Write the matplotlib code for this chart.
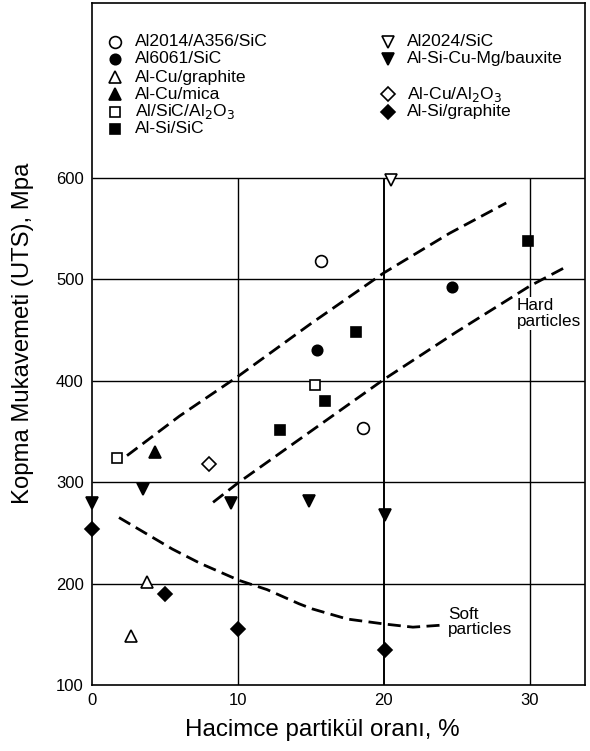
import matplotlib
matplotlib.use("Agg")
import matplotlib.pyplot as plt

plt.rcParams['font.family'] = ['Liberation Sans', 'DejaVu Sans']

# ---- data (volume fraction %, UTS MPa) ----
series_names = ["Al2014/A356/SiC", "Al6061/SiC", "Al-Cu/graphite", "Al-Cu/mica",
                "Al/SiC/Al$_2$O$_3$", "Al-Si/SiC", "Al2024/SiC", "Al-Si-Cu-Mg/bauxite",
                "Al-Cu/Al$_2$O$_3$", "Al-Si/graphite"]
al2014_x = [15.7, 18.6]
al2014_y = [518, 353]
al6061_x = [15.4, 24.7]
al6061_y = [430, 492]
alcu_graphite_x = [3.8, 2.7]
alcu_graphite_y = [201, 148]
alcu_mica_x = [4.3]
alcu_mica_y = [330]
al_sic_al2o3_x = [1.7, 15.3]
al_sic_al2o3_y = [324, 396]
alsi_sic_x = [12.9, 16.0, 18.1, 29.9]
alsi_sic_y = [351, 380, 448, 537]
al2024_x = [20.5]
al2024_y = [598]
bauxite_x = [0.0, 3.5, 9.5, 14.9, 20.1]
bauxite_y = [279, 293, 279, 281, 268]
alcu_al2o3_x = [8.0]
alcu_al2o3_y = [318]
alsi_graphite_x = [0.0, 5.0, 10.0, 20.1]
alsi_graphite_y = [254, 190, 155, 134]

# trend bands
hard_upper_x = [2.4, 6, 10, 15, 20, 24.5, 28.4]
hard_upper_y = [326, 365, 404, 456, 506, 545, 575]
hard_lower_x = [8.3, 10, 15, 20, 25, 30, 32.5]
hard_lower_y = [280, 299, 350, 401, 448, 493, 512]
soft_x = [1.85, 3.5, 5.5, 7.4, 10.1, 12, 14.2, 15.1, 17.5, 20.1, 22, 24]
soft_y = [265, 251, 234, 220, 203, 194, 180, 175, 165, 160, 157, 159]

x_ticks = [0, 10, 20, 30]
y_ticks = [100, 200, 300, 400, 500, 600]

# ---- figure ----
fig = plt.figure(figsize=(5.9, 7.51), dpi=100)
L, R = 92 / 590, 585 / 590
B, T = 1 - 685 / 751, 1 - 3 / 751
ax = fig.add_axes([L, B, R - L, T - B])
ax.set_xlim(0, 33.8)
ax.set_ylim(100, 772)

for s in ax.spines.values():
    s.set_linewidth(1.2)
    s.set_color('black')

# grid (only within the data region)
ax.vlines([10, 30], 100, 600, color='black', lw=1.0, zorder=1)
ax.vlines([20], 100, 600, color='black', lw=1.4, zorder=1)
ax.hlines([200, 300, 400, 500, 600], 0, 33.8, color='black', lw=1.0, zorder=1)

ax.set_xticks(x_ticks)
ax.set_yticks(y_ticks)
ax.tick_params(length=0, labelsize=12, pad=6)

ax.set_xlabel("Hacimce partikül oranı, %", fontsize=17.4)
ax.xaxis.set_label_coords(0.467, -0.050)
ax.xaxis.label.set_va('top')
ax.set_ylabel("Kopma Mukavemeti (UTS), Mpa", fontsize=17.2)
ax.yaxis.set_label_coords(-0.118, 0.516)

# dashed trend lines
dash = (0, (4.7, 2.3))
for xs, ys in [(hard_upper_x, hard_upper_y), (hard_lower_x, hard_lower_y), (soft_x, soft_y)]:
    ax.plot(xs, ys, color='black', lw=2.0, linestyle=dash, zorder=2)

mew = 1.2
styles = [
    (al2014_x, al2014_y, 'o', 'white', 8.5),
    (al6061_x, al6061_y, 'o', 'black', 7.5),
    (alcu_graphite_x, alcu_graphite_y, '^', 'white', 8.5),
    (alcu_mica_x, alcu_mica_y, '^', 'black', 8.5),
    (al_sic_al2o3_x, al_sic_al2o3_y, 's', 'white', 7.0),
    (alsi_sic_x, alsi_sic_y, 's', 'black', 6.5),
    (al2024_x, al2024_y, 'v', 'white', 8.5),
    (bauxite_x, bauxite_y, 'v', 'black', 8.5),
    (alcu_al2o3_x, alcu_al2o3_y, 'D', 'white', 7.0),
    (alsi_graphite_x, alsi_graphite_y, 'D', 'black', 7.0),
]
for (xs, ys, m, fc, size) in styles:
    ax.plot(xs, ys, linestyle='none', marker=m, markersize=size, markerfacecolor=fc,
            markeredgecolor='black', markeredgewidth=mew, zorder=4, clip_on=False)

# annotations
ax.text(29.1, 481, "Hard\nparticles", fontsize=12.3, va='top', ha='left', linespacing=1.05,
        zorder=3, bbox=dict(facecolor='white', edgecolor='none', pad=1))
ax.text(24.4, 177, "Soft\nparticles", fontsize=12.3, va='top', ha='left', linespacing=1.05,
        zorder=3)

# legend (two columns, one gap row in the second column)
rows = [734, 717, 699, 682, 665, 648]
col1 = [0, 1, 2, 3, 4, 5]
col2 = [6, 7, None, 8, 9, None]
for col, mx, tx in [(col1, 1.6, 2.95), (col2, 20.3, 21.6)]:
    for r, idx in zip(rows, col):
        if idx is None:
            continue
        _, _, m, fc, size = styles[idx]
        ax.plot([mx], [r], linestyle='none', marker=m, markersize=size, markerfacecolor=fc,
                markeredgecolor='black', markeredgewidth=mew, zorder=4)
        ax.text(tx, r, series_names[idx], fontsize=12.6, va='center', ha='left')

fig.savefig("out.png", dpi=100)
